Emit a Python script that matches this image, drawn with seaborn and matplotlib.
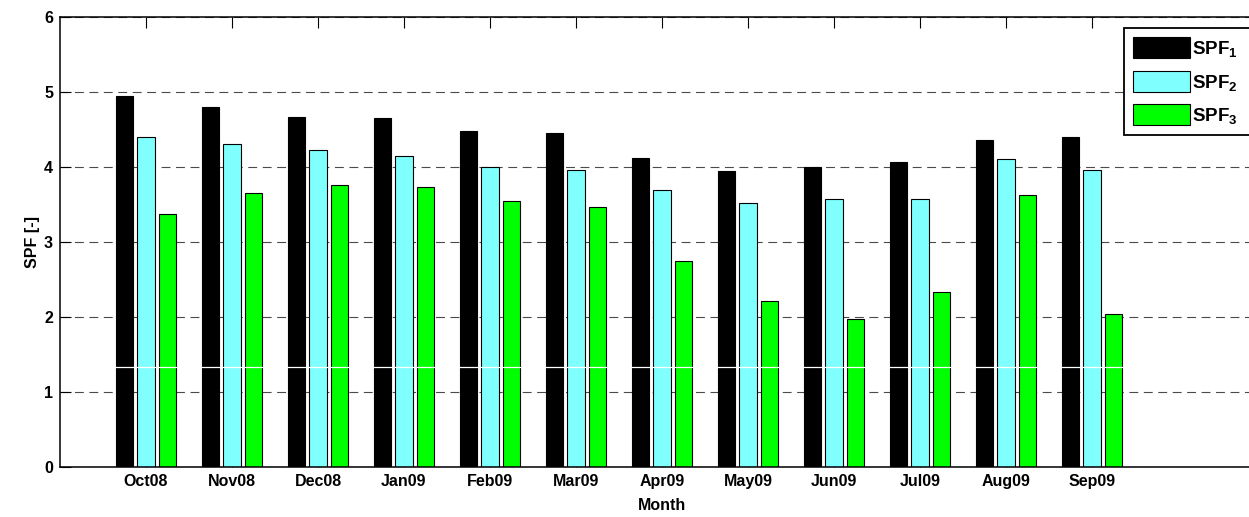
import numpy as np
import pandas as pd
import matplotlib
matplotlib.use("Agg")
import matplotlib.pyplot as plt
import seaborn as sns

# Monthly seasonal performance factors
months = ["Oct08", "Nov08", "Dec08", "Jan09", "Feb09", "Mar09",
          "Apr09", "May09", "Jun09", "Jul09", "Aug09", "Sep09"]
spf1 = [4.95, 4.80, 4.66, 4.65, 4.48, 4.45, 4.12, 3.95, 4.00, 4.06, 4.36, 4.40]
spf2 = [4.40, 4.31, 4.22, 4.15, 4.00, 3.96, 3.69, 3.52, 3.57, 3.57, 4.11, 3.96]
spf3 = [3.37, 3.65, 3.76, 3.73, 3.55, 3.47, 2.75, 2.22, 1.97, 2.34, 3.63, 2.04]
series_labels = ["SPF$_{1}$", "SPF$_{2}$", "SPF$_{3}$"]
series_colors = ["#000000", "#80FFFF", "#00FF00"]
y_ticks = [0, 1, 2, 3, 4, 5, 6]

plt.rcParams["font.family"] = ["Liberation Sans", "DejaVu Sans"]
plt.rcParams["font.weight"] = "bold"
plt.rcParams["mathtext.fontset"] = "custom"
plt.rcParams["mathtext.default"] = "bf"
plt.rcParams["mathtext.bf"] = "Liberation Sans:bold"
plt.rcParams["mathtext.rm"] = "Liberation Sans:bold"

df = pd.DataFrame({
    "Month": months * 3,
    "SPF": spf1 + spf2 + spf3,
    "Series": np.repeat(series_labels, len(months)),
})

fig = plt.figure(figsize=(12.49, 5.17), dpi=100)
ax = fig.add_axes([0.048, 0.0961, 0.964, 0.8716])

sns.barplot(data=df, x="Month", y="SPF", hue="Series", hue_order=series_labels,
            palette=series_colors, width=0.75, gap=0.19, saturation=1,
            edgecolor="black", linewidth=0.8, ax=ax, zorder=2)

# thin light seam across the bars
ax.axhline(1.33, color="white", lw=0.9, zorder=2.2)

ax.set_xlim(-1, 13)
ax.set_ylim(0, 6)
ax.set_yticks(y_ticks)

ax.yaxis.grid(True, linestyle=(0, (8, 5)), color="#4a4a4a", lw=0.8)
ax.xaxis.grid(False)
ax.set_axisbelow(True)

for side in ["left", "bottom", "top", "right"]:
    ax.spines[side].set_linewidth(1.1)
    ax.spines[side].set_color("black")

ax.tick_params(axis="x", direction="in", top=True, bottom=True, length=8,
               width=0.8, pad=5, labelsize=11.5)
ax.tick_params(axis="y", direction="in", left=True, right=False, length=8,
               width=0.8, pad=5, labelsize=11.5)
for lab in ax.get_xticklabels() + ax.get_yticklabels():
    lab.set_fontweight("bold")

ax.set_xlabel("Month", fontsize=11.5, fontweight="bold", labelpad=6)
ax.set_ylabel("SPF [-]", fontsize=11.5, fontweight="bold", labelpad=3)

# legend box sits in the upper-right corner of the (wider) axes
handles, labels = ax.get_legend_handles_labels()
leg = ax.legend(handles, labels, loc="upper left", mode="expand",
                bbox_to_anchor=(1124 / 1249, 1 - 28 / 517, 140 / 1249, 0),
                bbox_transform=fig.transFigure, borderaxespad=0,
                fancybox=False, shadow=False, framealpha=1,
                edgecolor="black", handlelength=3.0, handleheight=1.35,
                handletextpad=0.12, labelspacing=0.62, borderpad=0.5,
                prop={"weight": "bold", "size": 13.5})
leg.get_frame().set_linewidth(1.3)

fig.savefig("out.png", dpi=100)
